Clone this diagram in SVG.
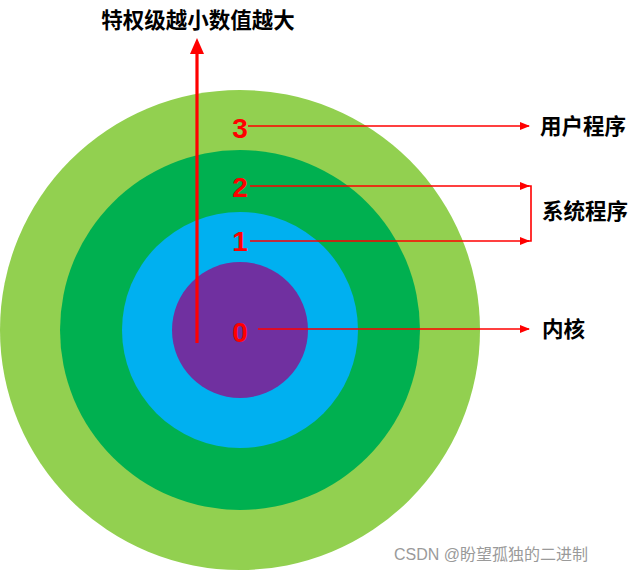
<svg xmlns="http://www.w3.org/2000/svg" width="640" height="575" viewBox="0 0 640 575">
<style>
.lbl{font-family:"Liberation Sans","Noto Sans CJK SC",sans-serif;font-weight:bold;font-size:21.5px;fill:#000}
.num{font-family:"Liberation Sans",sans-serif;font-weight:bold;font-size:28px;fill:#ff0000}
.ln{stroke:#ff0000;stroke-width:1.6;fill:none}
.wm{font-family:"Liberation Sans","Noto Sans CJK SC",sans-serif;font-size:16px;fill:#9a9a9a}
</style>
<defs>
<marker id="ah" markerWidth="10" markerHeight="8" refX="9" refY="4" orient="auto" markerUnits="userSpaceOnUse">
<path d="M0,0 L10,4 L0,8 z" fill="#ff0000"/>
</marker>
<marker id="ahb" markerWidth="14" markerHeight="16" refX="7" refY="14" orient="0" markerUnits="userSpaceOnUse">
<path d="M0,16 L7,0 L14,16 z" fill="#ff0000"/>
</marker>
</defs>
<rect width="640" height="575" fill="#fff"/>
<g id="ring3"><circle cx="240" cy="330" r="240" fill="#92D050"/></g>
<g id="ring2"><circle cx="240" cy="330" r="180" fill="#00B050"/></g>
<g id="ring1"><circle cx="240" cy="330" r="118" fill="#00B0F0"/></g>
<g id="ring0"><circle cx="240" cy="330" r="68" fill="#7030A0"/></g>
<g id="connectors">
<line class="ln" x1="197" y1="343" x2="197" y2="52" style="stroke-width:3.2" marker-end="url(#ahb)"/>
<line class="ln" x1="248" y1="126" x2="529" y2="126" marker-end="url(#ah)"/>
<line class="ln" x1="250" y1="186" x2="529" y2="186" marker-end="url(#ah)"/>
<line class="ln" x1="250" y1="241" x2="529" y2="241" marker-end="url(#ah)"/>
<polyline class="ln" points="521,186 531,186 531,241 521,241"/>
<line class="ln" x1="258" y1="329" x2="529" y2="329" marker-end="url(#ah)"/>
</g>
<g id="labels">
<text class="lbl" x="198" y="28" text-anchor="middle">特权级越小数值越大</text>
<text class="num" x="240" y="138" text-anchor="middle">3</text>
<text class="num" x="240" y="197" text-anchor="middle">2</text>
<text class="num" x="240" y="251" text-anchor="middle">1</text>
<text class="num" x="240" y="342" text-anchor="middle">0</text>
<text class="lbl" x="540" y="134">用户程序</text>
<text class="lbl" x="542" y="219">系统程序</text>
<text class="lbl" x="542" y="337">内核</text>
<text class="wm" x="394" y="560">CSDN @盼望孤独的二进制</text>
</g>
</svg>
